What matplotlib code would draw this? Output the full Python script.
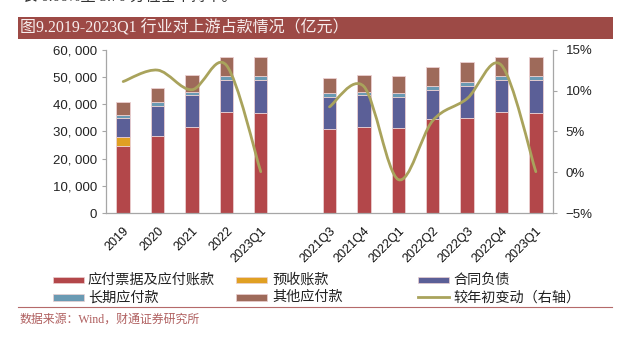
import numpy as np
import matplotlib
matplotlib.use("Agg")
import matplotlib.pyplot as plt
from matplotlib.patches import Rectangle, PathPatch
from matplotlib.path import Path
from matplotlib.lines import Line2D
import matplotlib.transforms as mtransforms

# ---------------- data ----------------
categories = ['2019', '2020', '2021', '2022', '2023Q1', '',
              '2021Q3', '2021Q4', '2022Q1', '2022Q2', '2022Q3', '2022Q4', '2023Q1']
nan = np.nan
payables = [24800, 28400, 31500, 37100, 36600, nan, 30800, 31500, 31300, 34400, 34900, 37100, 36600]
advances = [3100, 0, 0, 0, 0, nan, 0, 0, 0, 0, 0, 0, 0]
contract = [7100, 11050, 11770, 11800, 12150, nan, 11990, 11770, 11400, 10900, 11870, 11800, 12150]
longterm = [900, 1250, 1220, 1470, 1590, nan, 1240, 1330, 1210, 1470, 1470, 1470, 1590]
other = [5000, 5350, 6250, 6870, 6870, nan, 5740, 6140, 6510, 7000, 7130, 6870, 6870]
change = [11.1, 12.5, 10.1, 13.1, 0.06, nan, 8.0, 10.5, -0.9, 6.3, 9.0, 13.1, 0.06]

series_names = ['应付票据及应付账款', '预收账款', '合同负债', '长期应付款', '其他应付款']
line_name = '较年初变动（右轴）'
colors = ['#B3474A', '#E0A023', '#5B5F97', '#6A9AB3', '#9E6A5A']
line_color = '#A9A35C'
y_ticks = [0, 10000, 20000, 30000, 40000, 50000, 60000]
y2_ticks = [-5, 0, 5, 10, 15]

W, H = 620, 338
fig = plt.figure(figsize=(W / 100, H / 100), dpi=100)
fig.patch.set_facecolor('white')

def fx(x):
    return x / W

def fy(y):
    return 1 - y / H

CJK = ['Noto Sans CJK SC', 'DejaVu Sans']
SERIF_CJK = ['Liberation Serif', 'Noto Sans CJK SC', 'DejaVu Sans']
SANS = ['Liberation Sans', 'DejaVu Sans']

# clipped text from the page above (cut off at the top in the reference too)
fig.text(fx(22), fy(-3), '长 0.06%至 5.70 分位基本持平。', family=SERIF_CJK,
         fontsize=11, color='#333333', va='center', ha='left')

# title bar
fig.patches.append(Rectangle((fx(18), fy(39)), (613 - 18) / W, 21.7 / H,
                             transform=fig.transFigure, facecolor='#9D4A46',
                             edgecolor='none', zorder=0))
fig.text(fx(20), fy(28.3), '图9.2019-2023Q1 行业对上游占款情况（亿元）',
         family=SERIF_CJK, fontsize=11.5, color='#F7EDED', va='center', ha='left')

# axes
ax = fig.add_axes([fx(106), fy(213), (553 - 106) / W, (213 - 49.7) / H])
x = np.arange(len(categories))
bottom = np.zeros(len(categories))
for vals, c in zip([payables, advances, contract, longterm, other], colors):
    v = np.array(vals, dtype=float)
    ax.bar(x, v, width=0.39, bottom=bottom, color=c, edgecolor='#EBCFD0',
           linewidth=0.6, zorder=2)
    bottom = bottom + np.nan_to_num(v)

ax.set_xlim(-0.5, 12.5)
ax.set_ylim(0, 60000)
ax.set_yticks(y_ticks)
ax.set_yticklabels([f"{v:,.0f}".replace(",", ", ") for v in y_ticks],
                   family=SANS, fontsize=9.5, color='#222222')
ax.set_xticks(x)
ax.set_xticklabels(categories, rotation=45, ha='right', va='top',
                   rotation_mode='anchor', family=SANS, fontsize=9, color='#111111')
offset = mtransforms.ScaledTranslation(-3.0 / 72, 0, fig.dpi_scale_trans)
for lab in ax.get_xticklabels():
    lab.set_transform(lab.get_transform() + offset)
ax.tick_params(axis='x', length=0, pad=8.6)
ax.tick_params(axis='y', length=3, width=0.8, color='#A6A6A6', pad=3.5, direction='out')
for s in ['top', 'right']:
    ax.spines[s].set_visible(False)
for s in ['left', 'bottom']:
    ax.spines[s].set_color('#A6A6A6')
    ax.spines[s].set_linewidth(0.9)

ax2 = ax.twinx()
ax2.set_ylim(-5, 15)
ax2.set_yticks(y2_ticks)
ax2.set_yticklabels([f"{v}%".replace('-', '−') for v in y2_ticks],
                    family=SANS, fontsize=9.5, color='#222222')
ax2.tick_params(axis='y', length=3, width=0.8, color='#A6A6A6', pad=6, direction='out')
for s in ['top', 'left', 'bottom']:
    ax2.spines[s].set_visible(False)
ax2.spines['right'].set_color('#A6A6A6')
ax2.spines['right'].set_linewidth(0.9)

# smoothed line (Catmull-Rom style bezier through the data points), split at gaps
def smooth_segments(xs, ys):
    segs, cur = [], []
    for xi, yi in zip(xs, ys):
        if np.isnan(yi):
            if cur:
                segs.append(cur)
            cur = []
        else:
            cur.append((xi, yi))
    if cur:
        segs.append(cur)
    return segs

for seg in smooth_segments(x, change):
    P = np.array(seg, dtype=float)
    n = len(P)
    verts = [P[0]]
    codes = [Path.MOVETO]
    for i in range(n - 1):
        p_prev = P[i - 1] if i > 0 else P[i]
        p_next2 = P[i + 2] if i + 2 < n else P[i + 1]
        c1 = P[i] + (P[i + 1] - p_prev) / 6.0
        c2 = P[i + 1] - (p_next2 - P[i]) / 6.0
        verts += [c1, c2, P[i + 1]]
        codes += [Path.CURVE4] * 3
    ax2.add_patch(PathPatch(Path(verts, codes), facecolor='none',
                            edgecolor=line_color, linewidth=2.0,
                            capstyle='round', zorder=3))

# legend (manual, matching reference column positions)
rows_y = [280, 297.3]
cols_x = [53, 236, 418]
text_x = [88, 272, 453]
entries = [(0, 0, 0), (0, 1, 1), (0, 2, 2), (1, 0, 3), (1, 1, 4)]
for r, cidx, si in entries:
    fig.patches.append(Rectangle((fx(cols_x[cidx]), fy(rows_y[r] + 3.3)), 31 / W, 6.6 / H,
                                 transform=fig.transFigure, facecolor=colors[si],
                                 edgecolor='#EBCFD0', linewidth=0.5))
    fig.text(fx(text_x[cidx]), fy(rows_y[r]), series_names[si], family=CJK,
             fontsize=10.2, color='#222222', va='center', ha='left')
fig.lines.append(Line2D([fx(cols_x[2]), fx(cols_x[2] + 31)], [fy(rows_y[1])] * 2,
                        transform=fig.transFigure, color=line_color, linewidth=2.0))
fig.text(fx(text_x[2]), fy(rows_y[1]), line_name, family=CJK,
         fontsize=10.2, color='#222222', va='center', ha='left')

# separator and source
fig.lines.append(Line2D([fx(18), fx(612)], [fy(306.7)] * 2, transform=fig.transFigure,
                        color='#B56A6A', linewidth=0.8))
fig.text(fx(19), fy(320), '数据来源：Wind，财通证券研究所', family=SERIF_CJK,
         fontsize=8.6, color='#B06060', va='center', ha='left')

fig.savefig('out.png', dpi=100, facecolor='white')
